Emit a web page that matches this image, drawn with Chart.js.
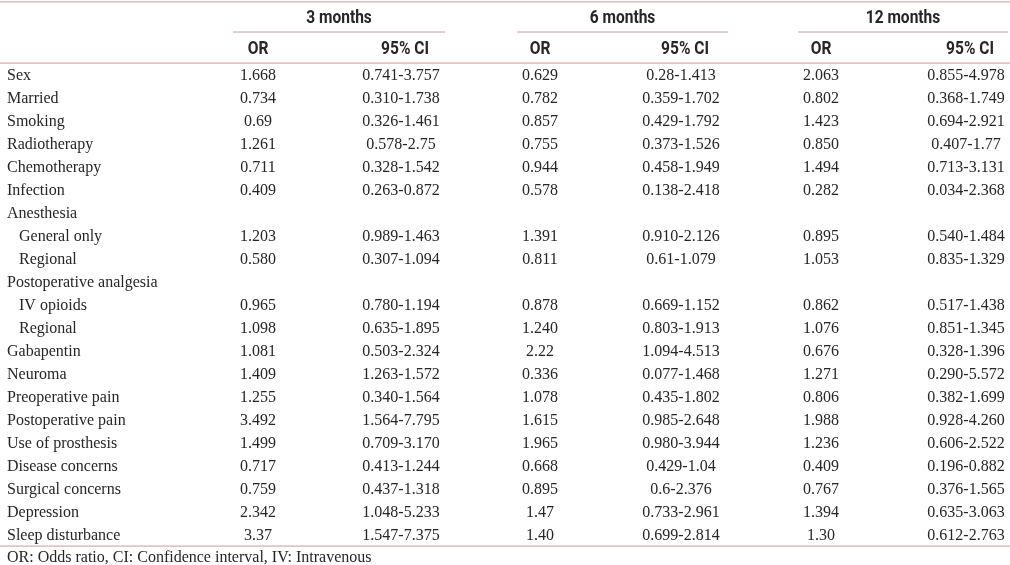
<!DOCTYPE html>
<html>
<head>
<meta charset="utf-8">
<script src="https://cdn.jsdelivr.net/npm/chart.js@4"></script>
<style>
  html, body { margin: 0; padding: 0; background: #fff; }
  #wrap { width: 1010px; height: 565px; position: relative; }
</style>
</head>
<body>
<div id="wrap"><canvas id="tableChart"></canvas></div>
<script>
const periods = ['3 months', '6 months', '12 months'];
const subHeads = ['OR', '95% CI'];
const rowLabels = ['Sex', 'Married', 'Smoking', 'Radiotherapy', 'Chemotherapy', 'Infection',
  'Anesthesia', 'General only', 'Regional', 'Postoperative analgesia', 'IV opioids', 'Regional',
  'Gabapentin', 'Neuroma', 'Preoperative pain', 'Postoperative pain', 'Use of prosthesis',
  'Disease concerns', 'Surgical concerns', 'Depression', 'Sleep disturbance'];
const rowIndent = [0, 0, 0, 0, 0, 0, 0, 1, 1, 0, 1, 1, 0, 0, 0, 0, 0, 0, 0, 0, 0];

const or3 = ['1.668', '0.734', '0.69', '1.261', '0.711', '0.409', '', '1.203', '0.580', '', '0.965', '1.098',
  '1.081', '1.409', '1.255', '3.492', '1.499', '0.717', '0.759', '2.342', '3.37'];
const ci3 = ['0.741-3.757', '0.310-1.738', '0.326-1.461', '0.578-2.75', '0.328-1.542', '0.263-0.872', '',
  '0.989-1.463', '0.307-1.094', '', '0.780-1.194', '0.635-1.895', '0.503-2.324', '1.263-1.572',
  '0.340-1.564', '1.564-7.795', '0.709-3.170', '0.413-1.244', '0.437-1.318', '1.048-5.233', '1.547-7.375'];
const or6 = ['0.629', '0.782', '0.857', '0.755', '0.944', '0.578', '', '1.391', '0.811', '', '0.878', '1.240',
  '2.22', '0.336', '1.078', '1.615', '1.965', '0.668', '0.895', '1.47', '1.40'];
const ci6 = ['0.28-1.413', '0.359-1.702', '0.429-1.792', '0.373-1.526', '0.458-1.949', '0.138-2.418', '',
  '0.910-2.126', '0.61-1.079', '', '0.669-1.152', '0.803-1.913', '1.094-4.513', '0.077-1.468',
  '0.435-1.802', '0.985-2.648', '0.980-3.944', '0.429-1.04', '0.6-2.376', '0.733-2.961', '0.699-2.814'];
const or12 = ['2.063', '0.802', '1.423', '0.850', '1.494', '0.282', '', '0.895', '1.053', '', '0.862', '1.076',
  '0.676', '1.271', '0.806', '1.988', '1.236', '0.409', '0.767', '1.394', '1.30'];
const ci12 = ['0.855-4.978', '0.368-1.749', '0.694-2.921', '0.407-1.77', '0.713-3.131', '0.034-2.368', '',
  '0.540-1.484', '0.835-1.329', '', '0.517-1.438', '0.851-1.345', '0.328-1.396', '0.290-5.572',
  '0.382-1.699', '0.928-4.260', '0.606-2.522', '0.196-0.882', '0.376-1.565', '0.635-3.063', '0.612-2.763'];
const footnote = 'OR: Odds ratio, CI: Confidence interval, IV: Intravenous';

const orCols = [or3, or6, or12];
const ciCols = [ci3, ci6, ci12];

// layout (x in px, y in row units: row i sits at y = i)
const orX = [258, 540, 821];
const ciX = [401, 681, 966];
const groupSpan = [[233, 445], [517, 728], [798, 1008]];
const labelX = 7, indentX = 19;
const rowTop = 75.5, rowH = 23;
const yGroupHead = -2.48, yGroupRule = -1.89, ySubHead = -1.15, yHeadRule = -0.54;
const yTopRule = -3.2, yBottomRule = 20.46, yFoot = 20.98;

const ruleColor = '#d09a9a';
const textColor = '#262626';
const bodyFont = '16px "Liberation Serif", "Times New Roman", serif';
const headFont = 'bold 18.5px "Roboto", "Liberation Sans", sans-serif';
const headSqueeze = 0.84;

function rule(x0, x1, y) {
  return {
    type: 'line', data: [{ x: x0, y: y }, { x: x1, y: y }],
    borderColor: ruleColor, borderWidth: 1, pointRadius: 0, clip: false
  };
}

const rules = [rule(0, 1010, yTopRule), rule(0, 1010, yHeadRule), rule(0, 1010, yBottomRule)];
groupSpan.forEach(s => rules.push(rule(s[0], s[1], yGroupRule)));

function headText(ctx, text, x, y) {
  ctx.save();
  ctx.translate(x, y);
  ctx.scale(headSqueeze, 1);
  ctx.fillText(text, 0, 0);
  ctx.restore();
}

const cellText = {
  id: 'cellText',
  afterDatasetsDraw(chart) {
    const ctx = chart.ctx;
    const xs = chart.scales.x, ys = chart.scales.y;
    ctx.save();
    ctx.fillStyle = textColor;
    ctx.textBaseline = 'middle';

    ctx.font = headFont;
    ctx.textAlign = 'center';
    periods.forEach((p, i) => {
      const mid = (groupSpan[i][0] + groupSpan[i][1]) / 2;
      headText(ctx, p, xs.getPixelForValue(mid), ys.getPixelForValue(yGroupHead));
      headText(ctx, subHeads[0], xs.getPixelForValue(orX[i]), ys.getPixelForValue(ySubHead));
      headText(ctx, subHeads[1], xs.getPixelForValue(ciX[i] + 4), ys.getPixelForValue(ySubHead));
    });

    ctx.font = bodyFont;
    rowLabels.forEach((lab, r) => {
      const y = ys.getPixelForValue(r);
      ctx.textAlign = 'left';
      ctx.fillText(lab, xs.getPixelForValue(rowIndent[r] ? indentX : labelX), y);
      ctx.textAlign = 'center';
      for (let c = 0; c < 3; c++) {
        ctx.fillText(orCols[c][r], xs.getPixelForValue(orX[c]), y);
        ctx.fillText(ciCols[c][r], xs.getPixelForValue(ciX[c]), y);
      }
    });

    ctx.textAlign = 'left';
    ctx.fillText(footnote, xs.getPixelForValue(labelX), ys.getPixelForValue(yFoot));
    ctx.restore();
  }
};

new Chart(document.getElementById('tableChart'), {
  type: 'scatter',
  data: { datasets: rules },
  options: {
    responsive: true,
    maintainAspectRatio: false,
    animation: false,
    layout: { padding: 0 },
    plugins: { legend: { display: false }, tooltip: { enabled: false } },
    scales: {
      x: { type: 'linear', min: 0, max: 1010, display: false },
      y: { type: 'linear', min: -rowTop / rowH, max: (565 - rowTop) / rowH, reverse: true, display: false }
    }
  },
  plugins: [cellText]
});
</script>
</body>
</html>
